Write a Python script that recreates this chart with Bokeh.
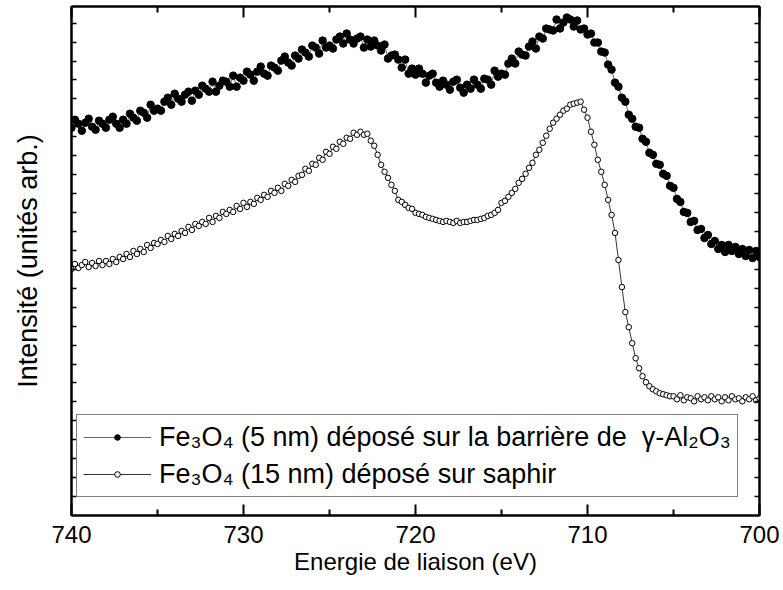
from bokeh.plotting import figure
from bokeh.models import (Range1d, LinearAxis, FixedTicker, Legend, LegendItem,
                          ColumnDataSource, CustomLabelingPolicy)
from bokeh.embed import file_html
from bokeh.resources import INLINE

# Binding energy grid (eV), 0.2 eV steps from 740 down to 700
energy = [round(740 - 0.2 * i, 1) for i in range(201)]

# Fe3O4 (5 nm) on gamma-Al2O3 barrier (arb. units)
film_5nm = [
    387, 395, 391, 384, 392,  396, 388, 385, 394, 391,  387, 395, 398, 391, 387,
    395, 391, 401, 397, 394,  404, 402, 397, 410, 404,  406, 404, 413, 417, 410,
    421, 416, 413, 420, 423,  414, 424, 420, 429, 426,  423, 433, 423, 429, 434,
    433, 428, 439, 428, 437,  434, 443, 440, 434, 443,  448, 441, 439, 449, 447,
    444, 454, 458, 452, 449,  459, 456, 465, 462, 458,  469, 467, 461, 474, 467,
    469, 466, 475, 478, 471,  481, 475, 471, 476, 478,  467, 475, 468, 474, 469,
    464, 470, 456, 459, 460,  455, 447, 455, 441, 446,  440, 446, 441, 432, 439,
    441, 432, 428, 434, 430,  425, 433, 435, 427, 422,  430, 426, 435, 430, 426,
    436, 435, 430, 444, 438,  441, 440, 451, 456, 451,  463, 460, 459, 468, 473,
    466, 478, 476, 486, 485,  484, 495, 486, 492, 497,  495, 488, 494, 485, 486,
    480, 481, 472, 472, 463,  462, 450, 445, 432, 428,  417, 413, 400, 396, 388,
    387, 376, 373, 362, 360,  351, 350, 341, 339, 329,  327, 316, 313, 303, 302,
    293, 294, 285, 286, 277,  280, 271, 274, 266, 270,  263, 270, 264, 268, 261,
    266, 259, 265, 257, 264,  258,
]

# Fe3O4 (15 nm) on sapphire (arb. units)
film_15nm = [
    246, 251, 247, 250, 253,  248, 252, 249, 254, 250,  254, 251, 256, 253, 258,
    256, 261, 258, 264, 261,  266, 263, 270, 267, 272,  271, 275, 273, 279, 276,
    281, 279, 284, 282, 288,  285, 291, 289, 293, 291,  297, 293, 299, 297, 303,
    301, 305, 303, 309, 306,  312, 308, 313, 311, 317,  315, 320, 318, 324, 322,
    327, 324, 331, 329, 335,  333, 339, 340, 346, 344,  351, 350, 357, 355, 363,
    361, 368, 366, 373, 371,  377, 376, 382, 380, 383,  380, 381, 374, 369, 360,
    350, 343, 337, 330, 324,  315, 313, 310, 307, 306,  302, 301, 300, 298, 297,
    296, 295, 294, 293, 294,  293, 292, 294, 292, 293,  293, 294, 295, 295, 296,
    297, 299, 300, 302, 305,  312, 314, 318, 322, 326,  332, 336, 341, 347, 352,
    360, 365, 372, 379, 386,  392, 396, 400, 404, 406,  410, 411, 412, 413, 405,
    397, 383, 370, 355, 343,  330, 315, 300, 282, 255,  228, 203, 188, 172, 157,
    147, 139, 133, 129, 126,  124, 122, 121, 120, 119,  119, 116, 120, 115, 118,
    117, 114, 119, 116, 118,  115, 119, 116, 118, 114,  118, 115, 119, 116, 117,
    114, 118, 116, 119, 115,  117,
]

x_major = [740, 730, 720, 710, 700]
x_minor = [735, 725, 715, 705]
y_ticks = [round(18.9 * k, 1) for k in range(1, 27)]

label_5 = "Fe\u2083O\u2084 (5 nm) déposé sur la barrière de  \u03b3-Al\u2082O\u2083"
label_15 = "Fe\u2083O\u2084 (15 nm) déposé sur saphir"

FONT = "Liberation Sans"

p = figure(width=783, height=590, output_backend="svg", toolbar_location=None,
           x_range=Range1d(740, 700), y_range=Range1d(0, 508),
           min_border_left=71, min_border_right=24, min_border_top=6, min_border_bottom=75)
p.xgrid.visible = False
p.ygrid.visible = False
p.outline_line_color = "black"
p.outline_line_width = 2
p.background_fill_color = "white"

src5 = ColumnDataSource(dict(e=energy, h=film_5nm))
src15 = ColumnDataSource(dict(e=energy, h=film_15nm))

l5 = p.line("e", "h", source=src5, line_color="black", line_width=0.6)
s5 = p.scatter("e", "h", source=src5, marker="circle", size=7.5, fill_color="black", line_color="black")
l15 = p.line("e", "h", source=src15, line_color="black", line_width=0.8)
s15 = p.scatter("e", "h", source=src15, marker="circle", size=5.5, fill_color="white",
                line_color="black", line_width=1)

def hide_labels(ax):
    ax.major_label_text_font_size = "0px"
    ax.major_label_standoff = 0
    ax.major_label_policy = CustomLabelingPolicy(
        code="for (const i of Array.from(indices)) { indices.unset(i) }\nreturn indices")

def style_x(ax, labels=True):
    ax.ticker = FixedTicker(ticks=x_major, minor_ticks=x_minor)
    ax.major_tick_in = 11
    ax.major_tick_out = 0
    ax.minor_tick_in = 6
    ax.minor_tick_out = 0
    ax.major_tick_line_width = 2
    ax.minor_tick_line_width = 2
    ax.axis_line_width = 2
    ax.major_label_text_font = FONT
    ax.major_label_text_color = "black"
    if labels:
        ax.major_label_text_font_size = "24px"
        ax.major_label_standoff = 10
    else:
        hide_labels(ax)

def style_y(ax):
    ax.ticker = FixedTicker(ticks=y_ticks)
    ax.major_tick_in = 5
    ax.major_tick_out = 0
    ax.minor_tick_in = 0
    ax.minor_tick_out = 0
    ax.major_tick_line_width = 1.5
    ax.axis_line_width = 2
    hide_labels(ax)

xa = p.xaxis[0]
style_x(xa)
xa.axis_label = "Energie de liaison (eV)"
xa.axis_label_text_font = FONT
xa.axis_label_text_font_size = "24px"
xa.axis_label_text_font_style = "normal"
xa.axis_label_text_color = "black"
xa.axis_label_standoff = 2

ya = p.yaxis[0]
style_y(ya)
ya.axis_label = "Intensité (unités arb.)"
ya.axis_label_text_font = FONT
ya.axis_label_text_font_size = "27px"
ya.axis_label_text_font_style = "normal"
ya.axis_label_text_color = "black"
ya.axis_label_standoff = 29

top = LinearAxis()
style_x(top, labels=False)
p.add_layout(top, "above")

right = LinearAxis()
style_y(right)
p.add_layout(right, "right")

legend = Legend(items=[LegendItem(label=label_5, renderers=[l5, s5]),
                       LegendItem(label=label_15, renderers=[l15, s15])],
                location=(5, 18))
legend.label_text_font = FONT
legend.label_text_font_size = "27px"
legend.label_text_color = "black"
legend.glyph_width = 68
legend.glyph_height = 14
legend.label_height = 32
legend.label_standoff = 8
legend.spacing = 5
legend.padding = 6
legend.margin = 0
legend.border_line_color = "black"
legend.border_line_width = 1.5
legend.background_fill_color = "white"
legend.background_fill_alpha = 1
p.add_layout(legend, "center")

open("out.html", "w").write(file_html(p, INLINE))
